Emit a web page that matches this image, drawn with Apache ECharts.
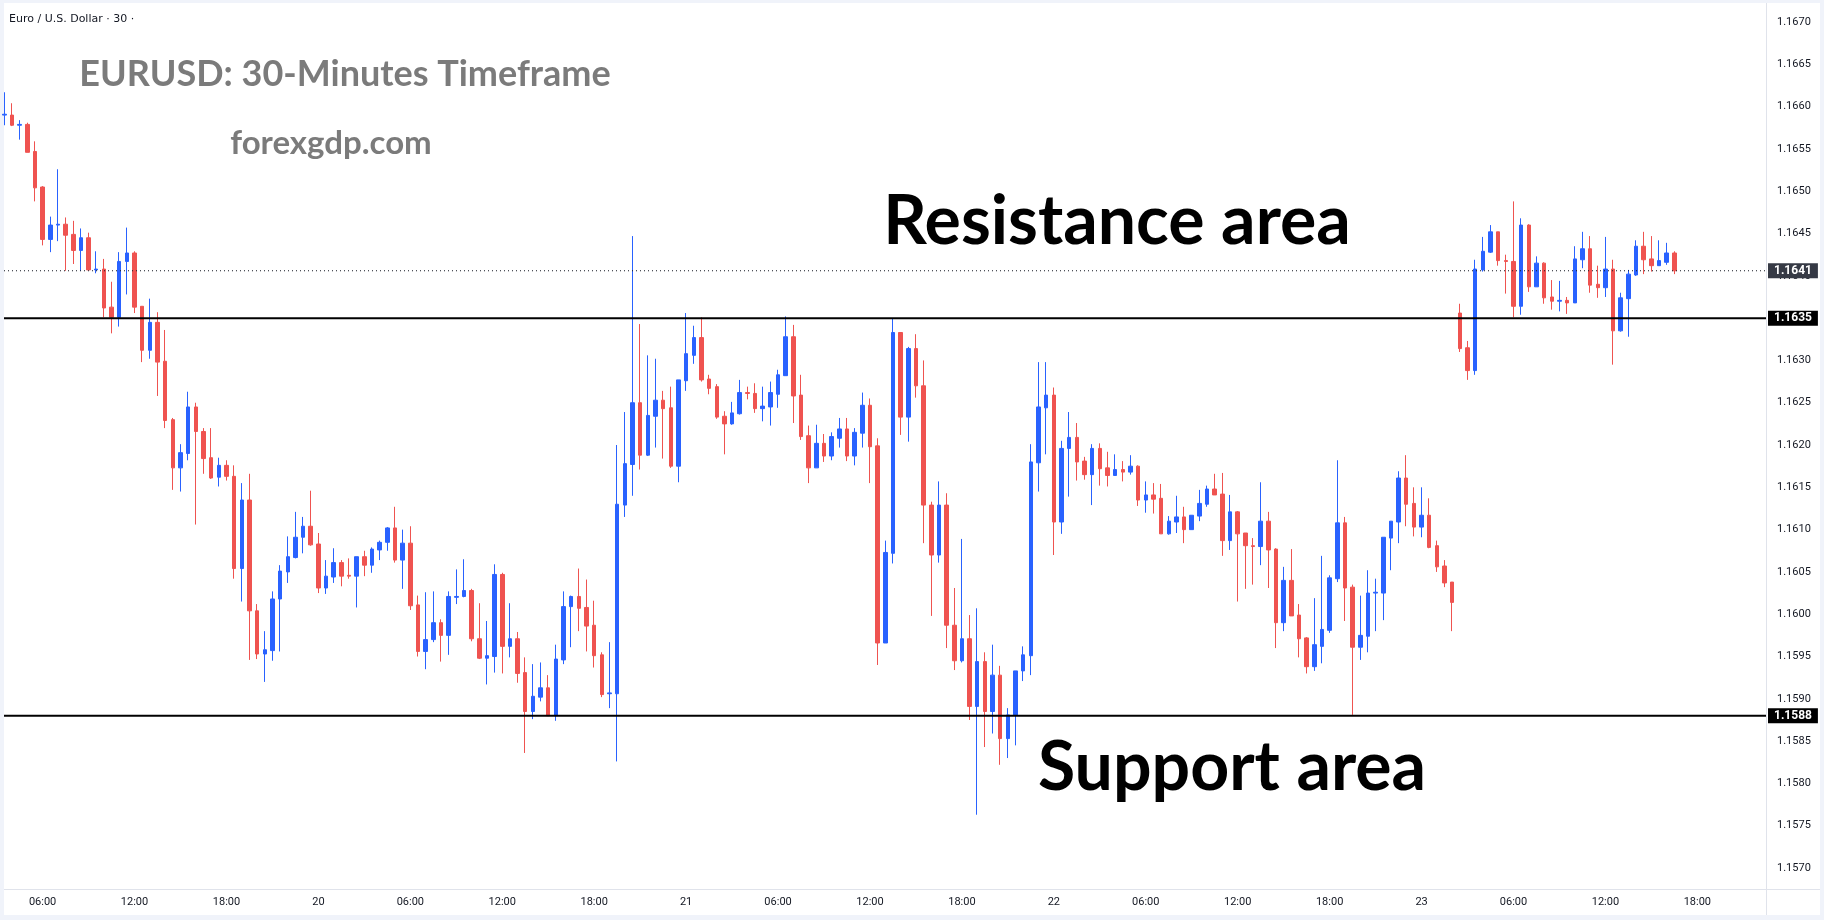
<!DOCTYPE html>
<html lang="en" style="height: 100%">
   <head>
      <meta charset="utf-8">
   </head>
   <body style="height: 100%; margin: 0; background: #f0f3fa">
      <div id="container" style="width: 1824px; height: 920px"></div>
      <script type="text/javascript" src="https://fastly.jsdelivr.net/npm/echarts@6/dist/echarts.min.js"></script>
      <script type="text/javascript">
// EURUSD 30m candles
var opens = [
  1.16590, 1.16590, 1.16578, 1.16579, 1.16547, 1.16505, 1.16443, 1.16460, 1.16461, 1.16449, 1.16430, 1.16445,
  1.16407, 1.16408, 1.16363, 1.16351, 1.16417, 1.16427, 1.16364, 1.16312, 1.16345, 1.16299, 1.16230, 1.16173,
  1.16190, 1.16245, 1.16216, 1.16185, 1.16162, 1.16176, 1.16163, 1.16054, 1.16135, 1.16004, 1.15953, 1.15957,
  1.16018, 1.16050, 1.16067, 1.16091, 1.16104, 1.16083, 1.16031, 1.16044, 1.16061, 1.16046, 1.16045, 1.16068,
  1.16058, 1.16076, 1.16085, 1.16102, 1.16064, 1.16084, 1.16011, 1.15956, 1.15970, 1.15990, 1.15975, 1.16020,
  1.16021, 1.16028, 1.15971, 1.15948, 1.15950, 1.16047, 1.15962, 1.15971, 1.15931, 1.15885, 1.15902, 1.15913,
  1.15880, 1.15946, 1.16009, 1.16021, 1.16008, 1.15987, 1.15952, 1.15906, 1.15906, 1.16129, 1.16177, 1.16250,
  1.16188, 1.16234, 1.16253, 1.16244, 1.16175, 1.16276, 1.16306, 1.16327, 1.16278, 1.16269, 1.16234, 1.16225,
  1.16237, 1.16262, 1.16261, 1.16243, 1.16245, 1.16260, 1.16282, 1.16328, 1.16259, 1.16211, 1.16173, 1.16202,
  1.16187, 1.16208, 1.16219, 1.16187, 1.16214, 1.16247, 1.16199, 1.15966, 1.16072, 1.16333, 1.16233, 1.16314,
  1.16270, 1.16129, 1.16070, 1.16129, 1.15987, 1.15945, 1.15971, 1.15891, 1.15944, 1.15885, 1.15928, 1.15853,
  1.15881, 1.15933, 1.15951, 1.16179, 1.16244, 1.16259, 1.16109, 1.16196, 1.16209, 1.16181, 1.16165, 1.16196,
  1.16173, 1.16164, 1.16171, 1.16168, 1.16175, 1.16135, 1.16141, 1.16137, 1.16095, 1.16109, 1.16115, 1.16100,
  1.16116, 1.16130, 1.16148, 1.16142, 1.16087, 1.16121, 1.16096, 1.16081, 1.16080, 1.16110, 1.16077, 1.15990,
  1.16040, 1.15999, 1.15972, 1.15938, 1.15962, 1.15981, 1.16042, 1.16108, 1.16032, 1.15961, 1.15974, 1.16025,
  1.16025, 1.16090, 1.16109, 1.16161, 1.16131, 1.16103, 1.16117, 1.16081, 1.16057, 1.16038, 1.16356, 1.16315,
  1.16288, 1.16407, 1.16428, 1.16452, 1.16418, 1.16417, 1.16364, 1.16460, 1.16387, 1.16415, 1.16375, 1.16370,
  1.16371, 1.16368, 1.16419, 1.16432, 1.16390, 1.16386, 1.16408, 1.16335, 1.16373, 1.16401, 1.16435, 1.16420,
  1.16412, 1.16416, 1.16427
];
var highs = [
  1.16617, 1.16604, 1.16584, 1.16581, 1.16559, 1.16506, 1.16470, 1.16526, 1.16469, 1.16465, 1.16456, 1.16451,
  1.16429, 1.16420, 1.16393, 1.16428, 1.16457, 1.16429, 1.16364, 1.16373, 1.16357, 1.16336, 1.16232, 1.16201,
  1.16263, 1.16250, 1.16220, 1.16220, 1.16185, 1.16182, 1.16176, 1.16155, 1.16166, 1.16012, 1.15980, 1.16027,
  1.16058, 1.16092, 1.16121, 1.16115, 1.16146, 1.16096, 1.16064, 1.16078, 1.16064, 1.16066, 1.16068, 1.16075,
  1.16079, 1.16087, 1.16103, 1.16127, 1.16100, 1.16104, 1.16022, 1.16026, 1.16027, 1.15994, 1.16027, 1.16053,
  1.16065, 1.16030, 1.16013, 1.15992, 1.16059, 1.16049, 1.16013, 1.15979, 1.15949, 1.15941, 1.15943, 1.15928,
  1.15964, 1.16027, 1.16022, 1.16054, 1.16041, 1.16016, 1.15955, 1.15967, 1.16200, 1.16239, 1.16447, 1.16343,
  1.16306, 1.16302, 1.16264, 1.16269, 1.16277, 1.16356, 1.16341, 1.16351, 1.16283, 1.16272, 1.16240, 1.16251,
  1.16277, 1.16269, 1.16273, 1.16269, 1.16275, 1.16289, 1.16352, 1.16342, 1.16283, 1.16223, 1.16224, 1.16213,
  1.16215, 1.16232, 1.16232, 1.16220, 1.16262, 1.16255, 1.16208, 1.16087, 1.16350, 1.16333, 1.16316, 1.16331,
  1.16300, 1.16133, 1.16157, 1.16143, 1.16031, 1.16089, 1.15999, 1.16007, 1.15955, 1.15964, 1.15939, 1.15889,
  1.15933, 1.15962, 1.16201, 1.16298, 1.16298, 1.16268, 1.16205, 1.16239, 1.16226, 1.16186, 1.16201, 1.16202,
  1.16192, 1.16189, 1.16181, 1.16188, 1.16176, 1.16157, 1.16155, 1.16154, 1.16116, 1.16140, 1.16127, 1.16117,
  1.16147, 1.16152, 1.16166, 1.16167, 1.16141, 1.16122, 1.16096, 1.16090, 1.16156, 1.16121, 1.16078, 1.16056,
  1.16077, 1.16012, 1.15973, 1.16019, 1.16069, 1.16046, 1.16182, 1.16115, 1.16035, 1.16022, 1.16052, 1.16042,
  1.16091, 1.16110, 1.16169, 1.16188, 1.16150, 1.16150, 1.16137, 1.16087, 1.16064, 1.16038, 1.16367, 1.16323,
  1.16419, 1.16446, 1.16460, 1.16452, 1.16425, 1.16488, 1.16468, 1.16461, 1.16423, 1.16416, 1.16395, 1.16394,
  1.16375, 1.16435, 1.16452, 1.16447, 1.16412, 1.16446, 1.16419, 1.16380, 1.16407, 1.16442, 1.16452, 1.16447,
  1.16442, 1.16439, 1.16429
];
var lows = [
  1.16578, 1.16577, 1.16561, 1.16546, 1.16488, 1.16436, 1.16428, 1.16441, 1.16406, 1.16414, 1.16406, 1.16407,
  1.16403, 1.16351, 1.16332, 1.16340, 1.16378, 1.16356, 1.16298, 1.16302, 1.16258, 1.16220, 1.16147, 1.16145,
  1.16182, 1.16106, 1.16166, 1.16160, 1.16151, 1.16158, 1.16042, 1.16015, 1.15946, 1.15947, 1.15920, 1.15945,
  1.15956, 1.16037, 1.16066, 1.16072, 1.16081, 1.16025, 1.16024, 1.16037, 1.16033, 1.16042, 1.16008, 1.16045,
  1.16049, 1.16064, 1.16075, 1.16061, 1.16030, 1.16005, 1.15950, 1.15935, 1.15967, 1.15944, 1.15952, 1.16012,
  1.16020, 1.15968, 1.15947, 1.15917, 1.15931, 1.15930, 1.15949, 1.15919, 1.15836, 1.15876, 1.15897, 1.15880,
  1.15874, 1.15941, 1.15961, 1.15980, 1.15956, 1.15937, 1.15902, 1.15889, 1.15826, 1.16115, 1.16140, 1.16171,
  1.16187, 1.16197, 1.16184, 1.16173, 1.16156, 1.16264, 1.16296, 1.16275, 1.16260, 1.16231, 1.16189, 1.16224,
  1.16236, 1.16254, 1.16238, 1.16228, 1.16223, 1.16244, 1.16282, 1.16226, 1.16206, 1.16155, 1.16173, 1.16180,
  1.16182, 1.16197, 1.16181, 1.16176, 1.16197, 1.16155, 1.15940, 1.15966, 1.16060, 1.16212, 1.16204, 1.16256,
  1.16084, 1.15998, 1.16061, 1.15960, 1.15934, 1.15943, 1.15875, 1.15763, 1.15843, 1.15859, 1.15822, 1.15830,
  1.15845, 1.15921, 1.15928, 1.16145, 1.16189, 1.16070, 1.16095, 1.16139, 1.16158, 1.16159, 1.16129, 1.16152,
  1.16151, 1.16164, 1.16157, 1.16165, 1.16128, 1.16120, 1.16119, 1.16095, 1.16094, 1.16096, 1.16084, 1.16100,
  1.16110, 1.16127, 1.16141, 1.16069, 1.16076, 1.16015, 1.16030, 1.16035, 1.16058, 1.16031, 1.15960, 1.15980,
  1.15998, 1.15949, 1.15930, 1.15933, 1.15942, 1.15978, 1.16038, 1.15992, 1.15881, 1.15946, 1.15955, 1.15980,
  1.15993, 1.16052, 1.16084, 1.16104, 1.16092, 1.16091, 1.16078, 1.16050, 1.16032, 1.15980, 1.16310, 1.16277,
  1.16283, 1.16405, 1.16427, 1.16412, 1.16379, 1.16351, 1.16354, 1.16381, 1.16387, 1.16367, 1.16360, 1.16358,
  1.16355, 1.16368, 1.16409, 1.16380, 1.16374, 1.16375, 1.16295, 1.16334, 1.16328, 1.16400, 1.16402, 1.16405,
  1.16412, 1.16413, 1.16402
];
var closes = [
  1.16591, 1.16578, 1.16579, 1.16546, 1.16504, 1.16443, 1.16460, 1.16461, 1.16448, 1.16430, 1.16445, 1.16407,
  1.16408, 1.16362, 1.16351, 1.16417, 1.16427, 1.16363, 1.16312, 1.16345, 1.16298, 1.16229, 1.16173, 1.16191,
  1.16245, 1.16216, 1.16184, 1.16161, 1.16176, 1.16163, 1.16054, 1.16135, 1.16004, 1.15953, 1.15958, 1.16018,
  1.16051, 1.16068, 1.16091, 1.16104, 1.16082, 1.16031, 1.16045, 1.16061, 1.16045, 1.16045, 1.16068, 1.16058,
  1.16077, 1.16085, 1.16102, 1.16064, 1.16084, 1.16010, 1.15956, 1.15970, 1.15990, 1.15975, 1.16021, 1.16021,
  1.16028, 1.15971, 1.15948, 1.15951, 1.16047, 1.15962, 1.15971, 1.15930, 1.15885, 1.15903, 1.15913, 1.15880,
  1.15947, 1.16009, 1.16021, 1.16007, 1.15986, 1.15951, 1.15905, 1.15907, 1.16130, 1.16178, 1.16250, 1.16188,
  1.16235, 1.16253, 1.16243, 1.16175, 1.16277, 1.16308, 1.16327, 1.16277, 1.16267, 1.16233, 1.16225, 1.16238,
  1.16262, 1.16261, 1.16243, 1.16246, 1.16262, 1.16283, 1.16328, 1.16258, 1.16210, 1.16173, 1.16202, 1.16187,
  1.16210, 1.16219, 1.16187, 1.16215, 1.16247, 1.16198, 1.15966, 1.16073, 1.16333, 1.16233, 1.16314, 1.16270,
  1.16129, 1.16070, 1.16129, 1.15987, 1.15945, 1.15971, 1.15891, 1.15944, 1.15885, 1.15928, 1.15853, 1.15881,
  1.15933, 1.15952, 1.16180, 1.16245, 1.16259, 1.16109, 1.16196, 1.16209, 1.16180, 1.16165, 1.16196, 1.16172,
  1.16164, 1.16171, 1.16168, 1.16175, 1.16135, 1.16141, 1.16136, 1.16095, 1.16110, 1.16115, 1.16100, 1.16117,
  1.16131, 1.16148, 1.16141, 1.16087, 1.16121, 1.16095, 1.16081, 1.16080, 1.16110, 1.16076, 1.15990, 1.16040,
  1.15998, 1.15971, 1.15938, 1.15964, 1.15982, 1.16043, 1.16108, 1.16031, 1.15961, 1.15975, 1.16025, 1.16026,
  1.16091, 1.16110, 1.16161, 1.16130, 1.16103, 1.16117, 1.16079, 1.16056, 1.16037, 1.16014, 1.16314, 1.16288,
  1.16408, 1.16429, 1.16452, 1.16418, 1.16417, 1.16364, 1.16460, 1.16387, 1.16415, 1.16374, 1.16370, 1.16371,
  1.16368, 1.16420, 1.16432, 1.16389, 1.16386, 1.16408, 1.16335, 1.16374, 1.16402, 1.16435, 1.16419, 1.16412,
  1.16418, 1.16427, 1.16406
];

var priceTicks = [1.1570, 1.1575, 1.1580, 1.1585, 1.1590, 1.1595, 1.1600, 1.1605, 1.1610, 1.1615, 1.1620,
  1.1625, 1.1630, 1.1635, 1.1640, 1.1645, 1.1650, 1.1655, 1.1660, 1.1665, 1.1670];
// candle number (1-based) where each time label sits
var timeTickIdx = [6, 18, 30, 42, 54, 66, 78, 90, 102, 114, 126, 138, 150, 162, 174, 186, 198, 210, 222];
var timeTickLabels = ['06:00', '12:00', '18:00', '20', '06:00', '12:00', '18:00', '21', '06:00', '12:00', '18:00',
  '22', '06:00', '12:00', '18:00', '23', '06:00', '12:00', '18:00'];

var resistance = 1.1635;
var support = 1.1588;
var lastPrice = closes[closes.length - 1];

var xMin = 0.96;
var xMax = 230.96;

var candles = opens.map(function (o, i) {
  return [i + 1, o, closes[i], lows[i], highs[i]];
});

var dom = document.getElementById('container');
var myChart = echarts.init(dom, null, { renderer: 'canvas' });

var axisFont = 'Roboto';

// horizontal level drawn as a 2-point line with a price tag at its right end
function levelSeries(price, lineStyle, tagBg) {
  return {
    type: 'line',
    data: [[xMin, price], [xMax, price]],
    symbol: 'none',
    silent: true,
    z: 3,
    lineStyle: lineStyle,
    endLabel: {
      show: true,
      distance: 2,
      formatter: function (p) { return p.value[1].toFixed(4); },
      backgroundColor: tagBg,
      color: '#ffffff',
      fontFamily: axisFont,
      fontSize: 12,
      fontWeight: 'bold',
      padding: [2, 6, 1, 6]
    }
  };
}

var option = {
  backgroundColor: '#f0f3fa',
  animation: false,
  grid: {
    left: 4,
    right: 58,
    top: 3,
    bottom: 31
  },
  xAxis: {
    type: 'value',
    min: xMin,
    max: xMax,
    axisLine: { show: false },
    axisTick: { show: false },
    splitLine: { show: false },
    axisLabel: {
      customValues: timeTickIdx,
      margin: 8,
      color: '#131722',
      fontFamily: axisFont,
      fontSize: 11,
      formatter: function (v) {
        var k = timeTickIdx.indexOf(Math.round(v));
        return k >= 0 ? timeTickLabels[k] : '';
      }
    }
  },
  yAxis: {
    type: 'value',
    position: 'right',
    min: 1.156752,
    max: 1.167225,
    axisLine: { show: false },
    axisTick: { show: false },
    splitLine: { show: false },
    axisLabel: {
      customValues: priceTicks,
      margin: 11,
      color: '#131722',
      fontFamily: axisFont,
      fontSize: 11,
      formatter: function (v) { return v.toFixed(4); }
    }
  },
  graphic: [
    { type: 'rect', z: -10, shape: { x: 4, y: 3, width: 1816, height: 912 }, style: { fill: '#ffffff' } },
    { type: 'line', z: 1, shape: { x1: 1766.5, y1: 3, x2: 1766.5, y2: 915 }, style: { stroke: '#e0e3eb', lineWidth: 1 } },
    { type: 'line', z: 1, shape: { x1: 4, y1: 889.5, x2: 1820, y2: 889.5 }, style: { stroke: '#e0e3eb', lineWidth: 1 } },
    {
      type: 'text', z: 100, x: 9, y: 19,
      style: { text: 'Euro / U.S. Dollar \u00b7 30 \u00b7', fill: '#131722', font: '11px "DejaVu Sans"', verticalAlign: 'middle' }
    },
    {
      type: 'text', z: 100, x: 345, y: 74,
      style: { text: 'EURUSD: 30-Minutes Timeframe', fill: '#7b7b7b', font: 'bold 36px Lato', align: 'center', verticalAlign: 'middle' }
    },
    {
      type: 'text', z: 100, x: 331, y: 143,
      style: { text: 'forexgdp.com', fill: '#7b7b7b', font: 'bold 33px Lato', align: 'center', verticalAlign: 'middle' }
    },
    {
      type: 'text', z: 100, x: 1117, y: 222,
      style: { text: 'Resistance area', fill: '#000000', font: 'bold 68px Lato', align: 'center', verticalAlign: 'middle' }
    },
    {
      type: 'text', z: 100, x: 1232, y: 768,
      style: { text: 'Support area', fill: '#000000', font: 'bold 68px Lato', align: 'center', verticalAlign: 'middle' }
    }
  ],
  series: [
    {
      type: 'candlestick',
      data: candles,
      encode: { x: 0, y: [1, 2, 3, 4] },
      barWidth: 4,
      clip: true,
      z: 2,
      itemStyle: {
        color: '#2962ff',
        color0: '#ef5350',
        borderColor: '#2962ff',
        borderColor0: '#ef5350',
        borderWidth: 1
      }
    },
    levelSeries(lastPrice, { color: '#131722', width: 1, type: [1, 3] }, '#363a45'),
    levelSeries(resistance, { color: '#000000', width: 2, type: 'solid' }, '#000000'),
    levelSeries(support, { color: '#000000', width: 2, type: 'solid' }, '#000000')
  ]
};

if (option && typeof option === 'object') {
  myChart.setOption(option);
}
window.addEventListener('resize', myChart.resize);
      </script>
   </body>
</html>
